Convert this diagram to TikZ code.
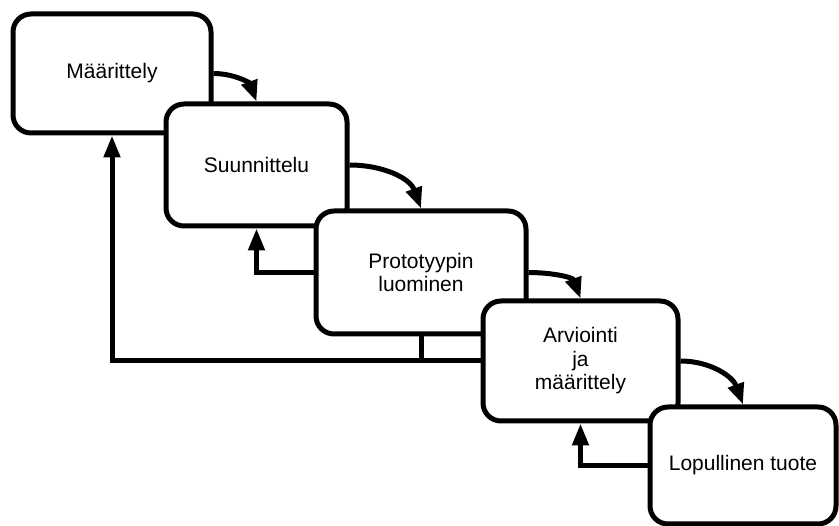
\documentclass[tikz,border=0pt]{standalone}
\usepackage{fontspec}
\setmainfont{Liberation Sans}
\usetikzlibrary{arrows.meta}
\begin{document}
\begin{tikzpicture}[x=1pt,y=1pt,
  box/.style={draw=black, line width=5pt, fill=white, rounded corners=18pt,
    inner sep=0pt, align=center, font=\fontsize{21}{23.5}\selectfont},
  fwd/.style={line width=5pt, -{Triangle[length=21pt,width=16pt]}},
  back/.style={line width=5pt, -{Triangle[length=22pt,width=16pt]}},
  plain/.style={line width=5pt}
]
\useasboundingbox (0,0) rectangle (839,-526);
\node[box, minimum width=198pt, minimum height=119pt] (b1) at (112,-73.5) {Määrittely};
\node[box, minimum width=181pt, minimum height=122pt] (b2) at (256.5,-165) {Suunnittelu};
\node[box, minimum width=210pt, minimum height=123pt] (b3) at (421,-272.5) {Prototyypin\\luominen};
\node[box, minimum width=195pt, minimum height=120pt] (b4) at (580.5,-361) {Arviointi\\ja\\määrittely};
\node[box, minimum width=186pt, minimum height=117pt] (b5) at (743,-465.5) {Lopullinen tuote};

\draw[fwd] (b1.east) to[out=0,in=110] (b2.north);
\draw[fwd] (b2.east) to[out=0,in=110] (b3.north);
\draw[fwd] (b3.east) to[out=0,in=110] (b4.north);
\draw[fwd] (b4.east) to[out=0,in=110] (b5.north);

\draw[back] (b3.west) -| (b2.south);
\draw[back] (b4.west) -| (b1.south);
\draw[plain] (b3.south) -- (b3.south |- b4.west);
\draw[back] (b5.west) -| (b4.south);
\end{tikzpicture}
\end{document}
